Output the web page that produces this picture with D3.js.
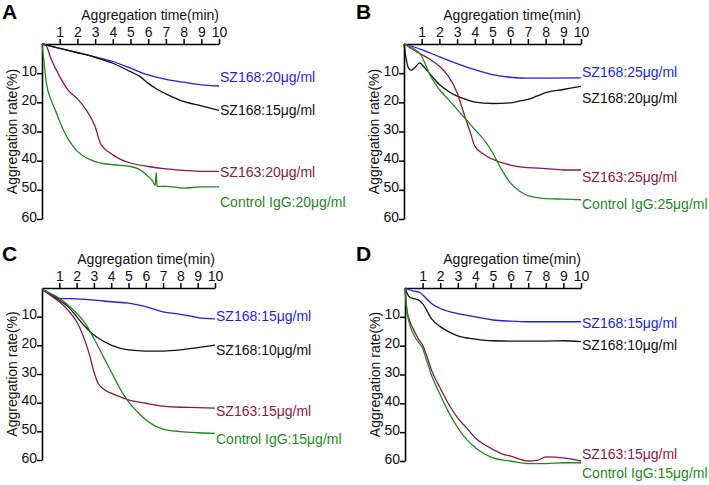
<!DOCTYPE html>
<html><head><meta charset="utf-8">
<script src="https://cdn.jsdelivr.net/npm/d3@7"></script>
<style>body{margin:0;background:#fff}svg{display:block}text{font-family:Arial,"Liberation Sans",sans-serif}</style>
</head><body>
<svg id="c" width="709" height="485"></svg>
<script>
// ---- data (time in min, aggregation rate in %) ----
const xTicks = [1,2,3,4,5,6,7,8,9,10];
const yTicks = [10,20,30,40,50,60];
const panelLetters = ["A","B","C","D"];

const A_blue   = [[0,0],[1,1.5],[2,2.9],[3,4.4],[4,6],[5,8.3],[6,10.6],[7,12.1],[8,13.1],[9,14],[10,14.4]];
const A_black  = [[0,0],[1,1.5],[2,3],[3,4.6],[4,6.6],[5,9.5],[5.5,11],[6,13.5],[6.5,15.5],[7,17.1],[8,19.7],[9,21.2],[10,22.8]];
const A_maroon = [[0,0],[0.2,0.3],[0.5,4.9],[1,11.2],[1.5,16],[2,18.8],[2.5,22.6],[3,28.3],[3.3,34],[3.5,35.7],[4,38],[4.5,39.7],[5,40.8],[6,42],[7,42.8],[8,43.3],[9,43.7],[10,43.7]];
const A_green  = [[0,0],[0.1,5.5],[0.25,13.5],[0.5,19],[0.75,22.6],[1,26.6],[1.25,30],[1.5,32.8],[2,36.8],[2.5,39],[3,40.3],[4,41.4],[5,42],[5.5,43],[6,45.4],[6.25,47],[6.4,48.5],[6.45,44],[6.5,48.8],[7,48.8],[8,49.4],[9,49],[10,49]];

const B_blue   = [[0,0],[1,1.9],[2,4.4],[3,6.7],[4,8.8],[5,10.5],[6,11.4],[7,11.7],[8,11.7],[10,11.6]];
const B_black  = [[0,0],[0.1,4.2],[0.25,8.2],[0.4,9],[0.6,8.2],[0.9,6.5],[1,7],[1.5,10.5],[2,13.9],[2.5,16.2],[3,17.9],[3.5,19],[4,19.9],[5,20.4],[6,20.2],[6.5,19.6],[7,19],[7.5,17.9],[8,16.7],[9,15.6],[10,14.5]];
const B_maroon = [[0,0],[0.5,1.9],[1,3.6],[1.5,5.4],[2,7.6],[2.5,11],[3,16.7],[3.25,21.3],[3.5,25.9],[3.75,30.4],[4,35],[4.5,37.8],[5,39.5],[5.5,40.7],[6,41.5],[7,42.4],[8,42.7],[9,43.2],[10,43.2]];
const B_green  = [[0,0],[0.5,1.4],[1,4.2],[1.25,7.6],[1.5,11],[2,15.6],[2.5,19],[3,22.4],[3.5,25.9],[4,29.3],[4.5,32.7],[5,37.2],[5.5,42.9],[6,47.5],[6.5,50.3],[7,52],[8,53],[9,53.2],[10,53.4]];

const C_blue   = [[0,0.5],[0.5,2.4],[1,3.6],[2,3.8],[3,4.2],[4,4.8],[5,5.3],[6,6.5],[7,8.3],[8,9.2],[9,10.3],[10,10.8]];
const C_black  = [[0,0.5],[0.5,2.2],[1,4.2],[1.5,6.5],[2,10],[2.5,13.5],[3,16.4],[3.5,18.4],[4,19.9],[5,21.6],[6,22],[7,22],[8,21.6],[9,20.8],[10,19.9]];
const C_maroon = [[0,0.5],[0.5,2.6],[1,4.8],[1.5,7.7],[2,11.7],[2.5,18.7],[2.75,23.4],[3,29.2],[3.25,33.3],[3.5,35],[4,36.7],[4.5,37.9],[5,39],[6,40.2],[7,41.2],[8,41.6],[9,41.7],[10,41.9]];
const C_green  = [[0,0.3],[0.5,1.9],[1,3.6],[1.5,5.9],[2,8.8],[2.5,12.3],[3,17.6],[3.5,23.4],[4,29.2],[4.5,35],[5,39.7],[5.5,43.1],[6,46],[6.5,48],[7,49.2],[8,50.1],[9,50.5],[10,50.7]];

const D_blue   = [[0,0],[0.5,1.1],[0.8,1.4],[1,2.3],[1.5,5.4],[2,7.1],[3,8.9],[4,10],[5,11.1],[6,11.5],[7,11.7],[8,11.7],[10,11.7]];
const D_black  = [[0,0],[0.25,3.1],[0.5,3.7],[0.8,4.3],[1,5.4],[1.5,10.6],[2,13.4],[2.5,15.2],[3,16.6],[4,17.7],[5,18.3],[6,18.4],[7,18.4],[8,18.4],[9,18.3],[10,18.6]];
const D_maroon = [[0,0],[0.1,7.1],[0.25,11.1],[0.5,14.6],[0.75,17.5],[1,19.8],[1.25,23.8],[1.5,28.4],[2,34.7],[2.5,40.5],[3,45.1],[3.5,48.5],[4,52],[4.5,54.3],[5,56],[5.5,57.5],[6,58.3],[7,60],[7.5,59.8],[8,58.6],[9,58.9],[10,60]];
const D_green  = [[0,0],[0.1,7.7],[0.25,12.3],[0.5,16.3],[0.75,18.6],[1,20.9],[1.25,25.5],[1.5,30.1],[2,37],[2.5,43.3],[3,48.5],[3.5,52.5],[4,55.4],[4.5,57.5],[5,58.9],[6,60],[7,60.9],[8,60.9],[9,60.6],[10,60.6]];

const labelsA = ["SZ168:20μg/ml","SZ168:15μg/ml","SZ163:20μg/ml","Control IgG:20μg/ml"];
const labelsB = ["SZ168:25μg/ml","SZ168:20μg/ml","SZ163:25μg/ml","Control IgG:25μg/ml"];
const labelsC = ["SZ168:15μg/ml","SZ168:10μg/ml","SZ163:15μg/ml","Control IgG:15μg/ml"];
const labelsD = ["SZ168:15μg/ml","SZ168:10μg/ml","SZ163:15μg/ml","Control IgG:15μg/ml"];

// ---- layout ----
const colors = ["#1f1fe6","#111111","#8a1848","#1e8a1e"];
const panels = [
  {letter:panelLetters[0], lx:2,   ly:19,  x0:42,  x1:219, y0:44,  y1:219, series:[A_blue,A_black,A_maroon,A_green], labels:labelsA, labY:[82,115,177,207]},
  {letter:panelLetters[1], lx:356, ly:19,  x0:404, x1:581, y0:44,  y1:219, series:[B_blue,B_black,B_maroon,B_green], labels:labelsB, labY:[77,103,182,209]},
  {letter:panelLetters[2], lx:2,   ly:261, x0:42,  x1:215, y0:288, y1:460, series:[C_blue,C_black,C_maroon,C_green], labels:labelsC, labY:[321,355,416,444]},
  {letter:panelLetters[3], lx:356, ly:261, x0:405, x1:581, y0:288, y1:461, series:[D_blue,D_black,D_maroon,D_green], labels:labelsD, labY:[328,350,459,478]}
];

const svg = d3.select("#c");
panels.forEach(p => {
  const g = svg.append("g");
  const x = d3.scaleLinear().domain([0,10]).range([p.x0,p.x1]);
  const y = d3.scaleLinear().domain([0,60]).range([p.y0,p.y1]);

  g.append("text").attr("x",p.lx).attr("y",p.ly).attr("font-size",21).attr("font-weight","bold").text(p.letter);

  const xa = g.append("g").attr("transform",`translate(0,${p.y0})`)
    .call(d3.axisTop(x).tickValues(xTicks).tickSize(5).tickSizeOuter(0).tickPadding(2));
  const ya = g.append("g").attr("transform",`translate(${p.x0},0)`)
    .call(d3.axisLeft(y).tickValues(yTicks).tickSize(5).tickSizeOuter(0).tickPadding(0));
  [xa,ya].forEach(a=>{
    a.select(".domain").attr("stroke","#000").attr("stroke-width",1.6);
    a.selectAll(".tick line").attr("stroke","#000").attr("stroke-width",1.5);
    a.selectAll(".tick text").attr("font-size",14).attr("fill","#111").attr("font-family","Arial, 'Liberation Sans', sans-serif");
  });
  ya.selectAll(".tick text").attr("dy","0.15em");

  g.append("text").attr("x",p.x1).attr("y",p.y0-24).attr("text-anchor","end").attr("font-size",14).attr("fill","#111").text("Aggregation time(min)");
  g.append("text").attr("transform",`translate(${p.x0-25},${(p.y0+p.y1)/2}) rotate(-90)`).attr("text-anchor","middle").attr("font-size",14).attr("fill","#111").text("Aggregation rate(%)");

  const line = d3.line().x(d=>x(d[0])).y(d=>y(d[1])).curve(d3.curveMonotoneX);
  p.series.forEach((s,i)=>{
    g.append("path").attr("d",line(s)).attr("fill","none").attr("stroke",colors[i]).attr("stroke-width",1.3);
    g.append("text").attr("x",p.x1+1).attr("y",p.labY[i]).attr("font-size",14).attr("fill",colors[i]).text(p.labels[i]);
  });
});
</script>
</body></html>
